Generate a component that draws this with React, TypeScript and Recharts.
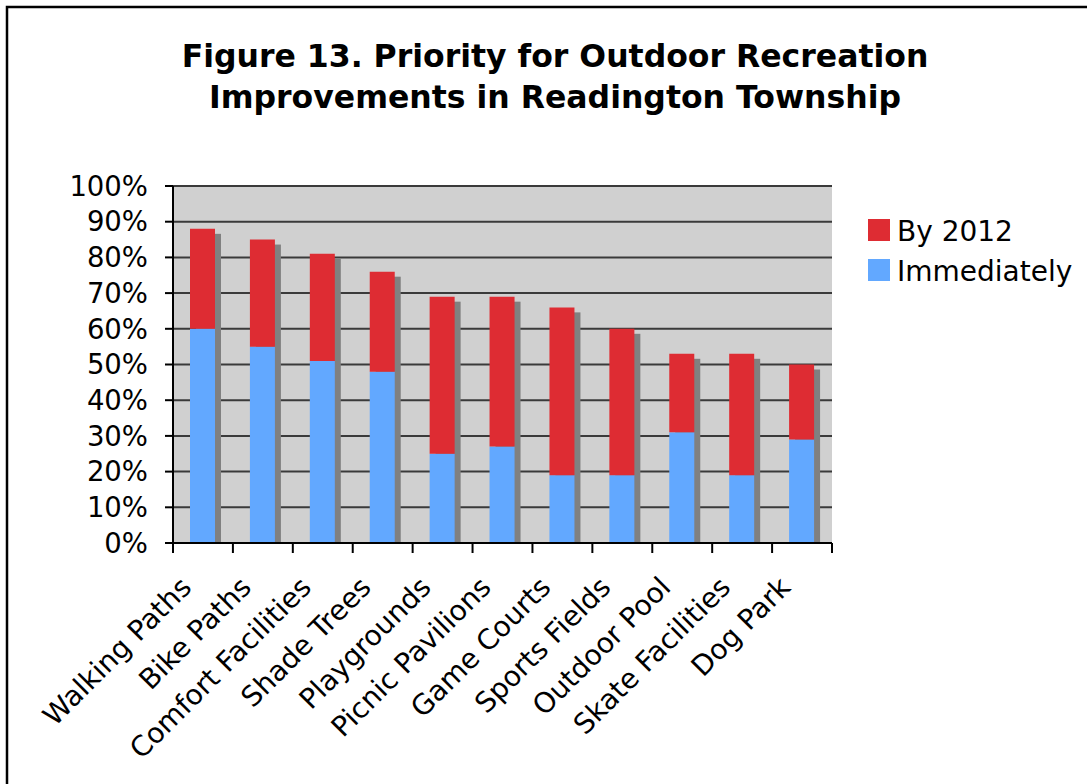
import React from "react";
import { BarChart, Bar, XAxis, YAxis, CartesianGrid } from "recharts";

const categories = [
  "Walking Paths",
  "Bike Paths",
  "Comfort Facilities",
  "Shade Trees",
  "Playgrounds",
  "Picnic Pavilions",
  "Game Courts",
  "Sports Fields",
  "Outdoor Pool",
  "Skate Facilities",
  "Dog Park",
];
const immediately = [60, 55, 51, 48, 25, 27, 19, 19, 31, 19, 29];
const by2012 = [28, 30, 30, 28, 44, 42, 47, 41, 22, 34, 21];
const yTicks = [0, 10, 20, 30, 40, 50, 60, 70, 80, 90, 100];
const titleLines = [
  "Figure 13. Priority for Outdoor Recreation",
  "Improvements in Readington Township",
];
const seriesNames = { by2012: "By 2012", immediately: "Immediately" };

const data = categories.map((name, i) => ({
  name,
  immediately: immediately[i],
  by2012: by2012[i],
}));

const W = 1087;
const H = 784;
const PLOT_LEFT = 173;
const PLOT_RIGHT = 832;
const PLOT_TOP = 186;
const PLOT_BOTTOM = 543;
const X_AXIS_H = 200;
const Y_AXIS_W = 150;
const BAND = (PLOT_RIGHT - PLOT_LEFT) / categories.length;
const FONT = "'DejaVu Sans', Verdana, sans-serif";
const BLUE = "#62A8FF";
const RED = "#DE2C33";
const SHADOW = "#808080";

const ShadowBlue = (props: any) => {
  const { x, y, width, height, payload } = props;
  if (!height || height <= 0) return null;
  const ppu = height / payload.immediately;
  const totalH = ppu * (payload.immediately + payload.by2012);
  const bottom = y + height;
  const top = bottom - totalH;
  return (
    <g>
      <rect x={x + 6} y={top + 5} width={width} height={totalH - 5} fill={SHADOW} />
      <rect x={x} y={y} width={width} height={height} fill={BLUE} />
    </g>
  );
};

const XTick = (props: any) => {
  const { x, y, payload, index } = props;
  return (
    <g transform={`translate(${x},${y})`}>
      {index === 0 && (
        <line x1={-BAND / 2} y1={0} x2={-BAND / 2} y2={10} stroke="#000" strokeWidth={2} />
      )}
      <line x1={BAND / 2} y1={0} x2={BAND / 2} y2={10} stroke="#000" strokeWidth={2} />
      <text
        x={0}
        y={0}
        transform="translate(-10,46) rotate(-45)"
        textAnchor="end"
        fontSize={28}
        fontFamily={FONT}
        fill="#000"
      >
        {payload.value}
      </text>
    </g>
  );
};

export default function App() {
  return (
    <div style={{ position: "absolute", left: 0, top: 0, width: W, height: H, background: "#fff" }}>
      <div style={{ position: "absolute", left: 0, top: 0 }}>
        <BarChart
          width={W}
          height={H}
          data={data}
          barSize={25}
          margin={{
            top: PLOT_TOP,
            right: W - PLOT_RIGHT,
            bottom: H - PLOT_BOTTOM - X_AXIS_H,
            left: PLOT_LEFT - Y_AXIS_W,
          }}
        >
          <CartesianGrid vertical={false} stroke="#3a3a3a" strokeWidth={2} fill="#D0D0D0" />
          <XAxis
            dataKey="name"
            height={X_AXIS_H}
            interval={0}
            tickLine={false}
            tickSize={0}
            tickMargin={0}
            axisLine={{ stroke: "#000", strokeWidth: 2 }}
            tick={<XTick />}
          />
          <YAxis
            type="number"
            width={Y_AXIS_W}
            domain={[0, 100]}
            ticks={yTicks}
            interval={0}
            tickFormatter={(v: number) => `${v}%`}
            tickSize={8}
            tickMargin={17}
            axisLine={{ stroke: "#000", strokeWidth: 2 }}
            tickLine={{ stroke: "#000", strokeWidth: 2 }}
            tick={{ fontSize: 27.5, fill: "#000", fontFamily: FONT }}
          />
          <Bar
            dataKey="immediately"
            name={seriesNames.immediately}
            stackId="a"
            fill={BLUE}
            shape={<ShadowBlue />}
            isAnimationActive={false}
          />
          <Bar
            dataKey="by2012"
            name={seriesNames.by2012}
            stackId="a"
            fill={RED}
            isAnimationActive={false}
          />
        </BarChart>
      </div>
      <svg
        width={W}
        height={H}
        style={{ position: "absolute", left: 0, top: 0, pointerEvents: "none" }}
      >
        <path d={`M7,${H} V7 H${W}`} fill="none" stroke="#000" strokeWidth={2.5} />
        {titleLines.map((t, i) => (
          <text
            key={i}
            x={555}
            y={67 + i * 41}
            textAnchor="middle"
            fontSize={31.5}
            fontWeight="bold"
            fontFamily={FONT}
            fill="#000"
          >
            {t}
          </text>
        ))}
        <rect x={868} y={219} width={22} height={22} fill={RED} />
        <text x={897} y={241} fontSize={28} fontFamily={FONT} fill="#000">
          {seriesNames.by2012}
        </text>
        <rect x={868} y={259} width={22} height={22} fill={BLUE} />
        <text x={897} y={281} fontSize={28} fontFamily={FONT} fill="#000">
          {seriesNames.immediately}
        </text>
      </svg>
    </div>
  );
}
